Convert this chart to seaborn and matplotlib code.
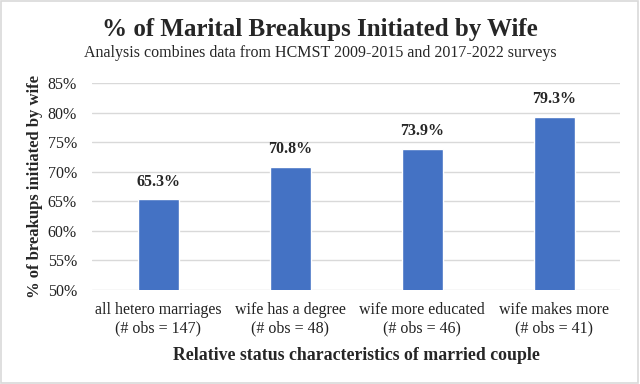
import matplotlib
matplotlib.use("Agg")
import matplotlib.pyplot as plt
import seaborn as sns
import pandas as pd
from matplotlib.ticker import PercentFormatter
from matplotlib.patches import Rectangle

categories = ["all hetero marriages\n(# obs = 147)",
              "wife has a degree\n(# obs = 48)",
              "wife more educated\n(# obs = 46)",
              "wife makes more\n(# obs = 41)"]
values = [65.3, 70.8, 73.9, 79.3]

sns.set_style("white")
plt.rcParams["font.family"] = ["Liberation Serif", "DejaVu Serif"]

df = pd.DataFrame({"group": categories, "pct": values})

fig = plt.figure(figsize=(6.4, 3.84), dpi=100)
ax = fig.add_axes([0.144, 0.245, 0.825, 0.539])

sns.barplot(data=df, x="group", y="pct", color="#4472C4", width=0.31,
            saturation=1, ax=ax, zorder=3)

ax.set_ylim(50, 85)
ax.set_yticks(range(50, 86, 5))
ax.yaxis.set_major_formatter(PercentFormatter(decimals=0))
ax.grid(axis="y", color="#D9D9D9", linewidth=1, zorder=0)
for s in ax.spines.values():
    s.set_visible(False)
ax.tick_params(axis="y", length=0, labelsize=11.5, colors="#222222", pad=11)
ax.tick_params(axis="x", length=0, labelsize=11.5, colors="#222222", pad=9)

for i, v in enumerate(values):
    ax.annotate(f"{v:.1f}%", (i, v), xytext=(0, 7), textcoords="offset points",
                ha="center", va="bottom", fontsize=11.5, fontweight="bold")

ax.set_xlabel("Relative status characteristics of married couple",
              fontsize=12.8, fontweight="bold", labelpad=7)
ax.set_ylabel("% of breakups initiated by wife", fontsize=12,
              fontweight="bold", labelpad=3)

fig.text(0.5, 0.922, "% of Marital Breakups Initiated by Wife",
         ha="center", va="center", fontsize=18, fontweight="bold")
fig.text(0.5, 0.863, "Analysis combines data from HCMST 2009-2015 and 2017-2022 surveys",
         ha="center", va="center", fontsize=11.5)

fig.patches.append(Rectangle((0.002, 0.003), 0.995, 0.994, transform=fig.transFigure,
                             fill=False, edgecolor="#D9D9D9", linewidth=1.2))

fig.savefig("out.png", dpi=100)
